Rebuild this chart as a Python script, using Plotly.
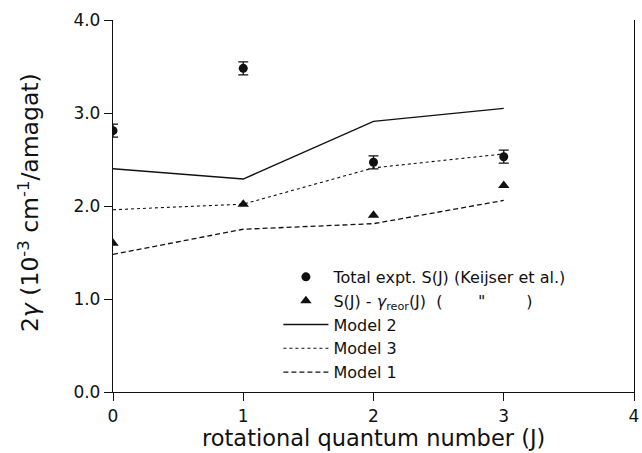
import plotly.graph_objects as go

J = [0, 1, 2, 3]
total_expt = [2.81, 3.48, 2.47, 2.53]
total_err = [0.07, 0.07, 0.07, 0.07]
s_minus_reor = [1.60, 2.02, 1.90, 2.22]
model2 = [2.40, 2.29, 2.91, 3.05]
model3 = [1.96, 2.02, 2.41, 2.56]
model1 = [1.48, 1.75, 1.81, 2.06]

x_ticks = [0, 1, 2, 3, 4]
y_ticks = [0.0, 1.0, 2.0, 3.0, 4.0]
y_tick_text = ["0.0", "1.0", "2.0", "3.0", "4.0"]

FONT = "DejaVu Sans"
BLACK = "#111111"

fig = go.Figure()
fig.add_trace(go.Scatter(
    x=J, y=total_expt, mode="markers", name="Total expt. S(J) (Keijser et al.)",
    marker=dict(symbol="circle", size=9, color=BLACK),
    error_y=dict(type="data", array=total_err, visible=True, color=BLACK, thickness=1.3, width=5),
))
fig.add_trace(go.Scatter(
    x=J, y=s_minus_reor, mode="markers",
    name="S(J) - <i>γ</i><sub>reor</sub>(J)  (\u00a0\u00a0\u00a0\u00a0\u00a0\u00a0\u00a0\"\u00a0\u00a0\u00a0\u00a0\u00a0\u00a0\u00a0\u00a0)",
    marker=dict(symbol="triangle-up", size=10, color=BLACK),
))
fig.add_trace(go.Scatter(
    x=J, y=model2, mode="lines", name="Model 2",
    line=dict(color=BLACK, width=1.4, dash="solid"),
))
fig.add_trace(go.Scatter(
    x=J, y=model3, mode="lines", name="Model 3",
    line=dict(color=BLACK, width=1.1, dash="dot"),
))
fig.add_trace(go.Scatter(
    x=J, y=model1, mode="lines", name="Model 1",
    line=dict(color=BLACK, width=1.3, dash="5px,3px"),
))

fig.update_layout(
    width=642, height=453,
    margin=dict(l=113, r=3, t=20, b=61),
    paper_bgcolor="white", plot_bgcolor="white",
    font=dict(family=FONT, color=BLACK, size=16),
    showlegend=True,
    legend=dict(
        x=(280 - 113) / 526, y=0.355, xanchor="left", yanchor="top",
        bgcolor="rgba(0,0,0,0)", borderwidth=0,
        font=dict(family=FONT, size=16, color=BLACK),
        itemwidth=45,
    ),
    xaxis=dict(
        range=[0, 4], tickvals=x_ticks, ticktext=[str(v) for v in x_ticks],
        showline=True, linecolor=BLACK, linewidth=1.3,
        ticks="outside", ticklen=8, tickwidth=1.2, tickcolor=BLACK,
        showgrid=False, zeroline=False, ticklabeloverflow="allow",
        tickfont=dict(family=FONT, size=17, color=BLACK),
    ),
    yaxis=dict(
        range=[0, 4], tickvals=y_ticks, ticktext=y_tick_text,
        showline=True, linecolor=BLACK, linewidth=1.3, mirror=True,
        ticks="outside", ticklen=8, tickwidth=1.2, tickcolor=BLACK,
        showgrid=False, zeroline=False,
        tickfont=dict(family=FONT, size=17, color=BLACK),
    ),
    annotations=[
        dict(text="2<i>γ</i> (10<sup>-3</sup> cm<sup>-1</sup>/amagat)",
             xref="paper", yref="paper", x=(28 - 113) / 526, y=0.51,
             xanchor="center", yanchor="middle", textangle=-90, showarrow=False,
             font=dict(family=FONT, size=23.5, color=BLACK)),
        dict(text="rotational quantum number (J)",
             xref="paper", yref="paper", x=0.5, y=(392 - 438) / 372,
             xanchor="center", yanchor="middle", showarrow=False,
             font=dict(family=FONT, size=22.5, color=BLACK)),
    ],
)

fig.write_html("out.html")
